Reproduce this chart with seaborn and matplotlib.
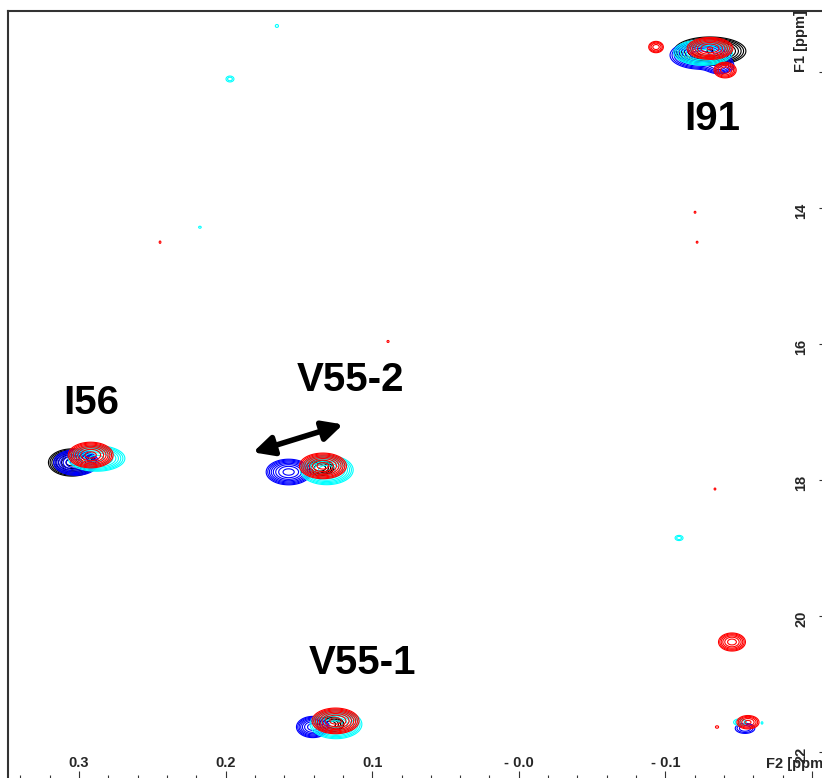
import numpy as np
import matplotlib
matplotlib.use("Agg")
import matplotlib.pyplot as plt
from matplotlib.ticker import MultipleLocator, FixedLocator
import seaborn as sns

sns.set_theme(style="white")
plt.rcParams["font.family"] = ["Liberation Sans", "DejaVu Sans"]
plt.rcParams["font.weight"] = "bold"

# Spectra overlaid (one colour per sample)
spectrum_colors = ["#000000", "#0000ff", "#00ffff", "#ff0000"]

# Peak tables per spectrum: F2 shift, F1 shift, widths (ppm), relative intensity
black_f2 = [-0.1304, 0.3048, 0.1356, 0.1288]
black_f1 = [11.69, 17.74, 17.82, 21.59]
black_w2 = [0.0100, 0.0068, 0.0050, 0.0050]
black_w1 = [0.085, 0.085, 0.060, 0.060]
black_amp = [20, 16, 6, 6]

blue_f2 = [-0.1236, -0.1370, 0.3020, 0.1570, 0.1405, -0.1543]
blue_f1 = [11.75, 11.91, 17.74, 17.88, 21.63, 21.65]
blue_w2 = [0.0085, 0.0050, 0.0065, 0.0065, 0.0050, 0.0045]
blue_w1 = [0.085, 0.060, 0.080, 0.080, 0.070, 0.050]
blue_amp = [18, 6, 16, 16, 12, 3]

cyan_f2 = [-0.1257, 0.2880, 0.1310, 0.1247, 0.1650, 0.1970, 0.2175,
           -0.1093, -0.1509, -0.1659]
cyan_f1 = [11.71, 17.68, 17.85, 21.59, 11.32, 12.10, 14.28,
           18.85, 21.56, 21.57]
cyan_w2 = [0.0085, 0.0082, 0.0075, 0.0075, 0.0015, 0.0025, 0.0015,
           0.0025, 0.0035, 0.0010]
cyan_w1 = [0.080, 0.080, 0.090, 0.090, 0.030, 0.040, 0.025,
           0.035, 0.040, 0.030]
cyan_amp = [16, 16, 18, 16, 1.3, 1.8, 1.2, 1.8, 2.2, 1.2]

red_f2 = [-0.1304, -0.1407, -0.0936, 0.2920, 0.1336, 0.1250, 0.2447,
          0.0892, -0.1202, -0.1216, -0.1338, -0.1454, -0.1563, -0.1352]
red_f1 = [11.65, 11.97, 11.63, 17.63, 17.79, 21.54, 14.50,
          15.96, 14.06, 14.50, 18.13, 20.38, 21.56, 21.63]
red_w2 = [0.0068, 0.0040, 0.0030, 0.0065, 0.0068, 0.0068, 0.0010,
          0.0012, 0.0010, 0.0010, 0.0010, 0.0045, 0.0042, 0.0015]
red_w1 = [0.070, 0.060, 0.050, 0.080, 0.080, 0.080, 0.030,
          0.025, 0.025, 0.025, 0.025, 0.065, 0.055, 0.025]
red_amp = [14, 6, 4, 16, 16, 16, 1.2, 1.2, 1.2, 1.2, 1.2, 8, 5, 1.3]

peak_tables = [
    (black_f2, black_f1, black_w2, black_w1, black_amp),
    (blue_f2, blue_f1, blue_w2, blue_w1, blue_amp),
    (cyan_f2, cyan_f1, cyan_w2, cyan_w1, cyan_amp),
    (red_f2, red_f1, red_w2, red_w1, red_amp),
]

# Assignments
label_text = ["I91", "I56", "V55-2", "V55-1"]
label_f2 = [-0.1318, 0.2918, 0.1145, 0.1063]
label_f1 = [12.69, 16.87, 16.52, 20.69]

# Chemical-shift change of V55-2
arrow_start = (0.1813, 17.59)
arrow_end = (0.1199, 17.18)

# Axis ticks
f2_ticks = [0.3, 0.2, 0.1, 0.0, -0.1, -0.2]
f2_labels = ["0.3", "0.2", "0.1", "- 0.0", "- 0.1", ""]
f1_ticks = [12, 14, 16, 18, 20, 22]
f1_labels = ["", "14", "16", "18", "20", "22"]

f2_lim = (0.3484, -0.2068)
f1_lim = (11.10, 22.38)

W, H = 822, 778
fig = plt.figure(figsize=(W / 100, H / 100), dpi=100)
ax = fig.add_axes([8 / W, 0.0, 1 - 8 / W, 1 - 11 / H])

x = np.linspace(-0.22, 0.36, 1700)
y = np.linspace(11.0, 22.5, 1500)
X, Y = np.meshgrid(x, y)

levels = 1.0 * 1.45 ** np.arange(10)
for color, (f2, f1, w2, w1, amp) in zip(spectrum_colors, peak_tables):
    Z = np.zeros_like(X)
    for cx, cy, sx, sy, a in zip(f2, f1, w2, w1, amp):
        Z += a * np.exp(-0.5 * (((X - cx) / sx) ** 2 + ((Y - cy) / sy) ** 2))
    ax.contour(X, Y, Z, levels=levels, colors=color, linewidths=0.8)

for t, px, py in zip(label_text, label_f2, label_f1):
    ax.text(px, py, t, fontsize=29, fontweight="bold", ha="center",
            va="center", color="black")

ax.annotate("", xy=arrow_start, xytext=arrow_end,
            arrowprops=dict(arrowstyle="<|-|>", lw=4, color="black",
                            mutation_scale=30, shrinkA=0, shrinkB=0))

ax.set_xlim(*f2_lim)
ax.set_ylim(f1_lim[1], f1_lim[0])

ax.xaxis.set_major_locator(FixedLocator(f2_ticks))
ax.set_xticklabels(f2_labels)
ax.xaxis.set_minor_locator(MultipleLocator(0.02))
ax.yaxis.set_major_locator(FixedLocator(f1_ticks))
ax.set_yticklabels(f1_labels, rotation=90)
ax.yaxis.tick_right()

ax.tick_params(axis="x", which="major", direction="in", length=5, width=0.8,
               color="#333333", pad=-15.5, labelsize=10.5, bottom=True)
ax.tick_params(axis="x", which="minor", direction="in", length=2.2,
               width=0.8, color="#333333", bottom=True)
ax.tick_params(axis="y", which="major", direction="in", length=2.5,
               width=0.8, color="#333333", pad=-20, labelsize=10.5,
               right=True, left=False)
for lab in ax.get_xticklabels() + ax.get_yticklabels():
    lab.set_fontweight("bold")

ax.annotate("F2 [ppm]", xy=(-0.2, 0), xycoords=("data", "axes fraction"),
            xytext=(-33, 15), textcoords="offset points", ha="left",
            va="top", fontsize=10.5, fontweight="bold")
ax.annotate("F1 [ppm]", xy=(1, 12), xycoords=("axes fraction", "data"),
            xytext=(-20, 0), textcoords="offset points", ha="left",
            va="bottom", rotation=90, fontsize=10.5, fontweight="bold")

for side in ["right", "bottom"]:
    ax.spines[side].set_visible(False)
for side in ["top", "left"]:
    ax.spines[side].set_visible(True)
    ax.spines[side].set_color("#333333")
    ax.spines[side].set_linewidth(1.5)

ax.grid(False)
fig.savefig("out.png", dpi=100, facecolor="white")
